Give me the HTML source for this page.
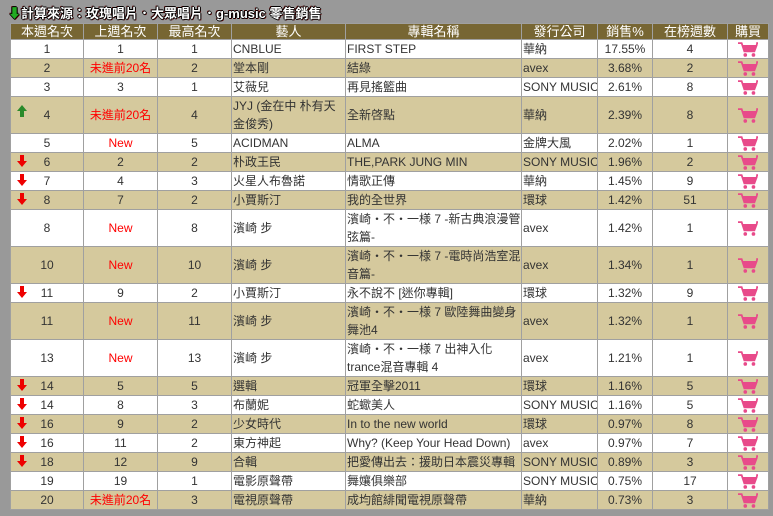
<!DOCTYPE html>
<html><head><meta charset="utf-8">
<style>
body{margin:0;background:#999;width:773px;height:516px;overflow:hidden;font-family:"Liberation Sans","Noto Sans CJK TC",sans-serif;}
.title{position:absolute;left:8px;top:3px;font-size:13px;font-weight:bold;color:#fff;text-shadow:1px 0 #000,-1px 0 #000,0 1px #000,0 -1px #000,1px 1px #600,-1px -1px #600;white-space:nowrap;}
.title .ar{color:#2a2;}
table{position:absolute;left:10px;top:23px;width:758px;border-collapse:collapse;table-layout:fixed;font-size:12px;color:#333;}
td{border:1px solid #a0a0a0;padding:0 1px;line-height:18px;overflow:hidden;white-space:nowrap;}
tr.h td{background:#776633;color:#fff;text-align:center;font-size:13px;height:15px;line-height:15px;}
tr.w td{background:#fff;}
tr.t td{background:#d5c99d;}
tr.s td{height:18px;}
tr.d td{height:36px;}
td.c{text-align:center;}
.r{color:#f00;}
td.a{position:relative;}
.dn,.up{position:absolute;left:6px;top:50%;margin-top:-7px;width:10px;height:12px;}
.cart{display:block;margin:0 auto;}
</style></head><body>
<div class="title"><span class="ar">⬇</span>計算來源：玫瑰唱片．大眾唱片．g-music 零售銷售</div>
<svg width="0" height="0" style="position:absolute"><defs>
<symbol id="d" viewBox="0 0 10 12"><path d="M3 0h4v6h3L5 12 0 6h3z" fill="#e00"/></symbol>
<symbol id="u" viewBox="0 0 10 12"><path d="M3 12h4V6h3L5 0 0 6h3z" fill="#2a8a2a"/></symbol>
<symbol id="k" viewBox="0 0 22 18"><path d="M0 2h4l3 9h11l3-8" stroke="#e84a8a" stroke-width="2" fill="none"/><path d="M4 4h16l-2 7H7z" fill="#e84a8a"/><circle cx="8" cy="15" r="2" fill="#e84a8a"/><circle cx="17" cy="15" r="2" fill="#e84a8a"/><path d="M20 2h2" stroke="#e84a8a" stroke-width="2"/></symbol>
</defs></svg>
<table>
<colgroup><col style="width:73px"><col style="width:74px"><col style="width:74px"><col style="width:114px"><col style="width:176px"><col style="width:76px"><col style="width:55px"><col style="width:75px"><col style="width:41px"></colgroup>
<tr class="h"><td>本週名次</td><td>上週名次</td><td>最高名次</td><td>藝人</td><td>專輯名稱</td><td>發行公司</td><td>銷售%</td><td>在榜週數</td><td>購買</td></tr>
<tr class="w s"><td class="c">1</td><td class="c">1</td><td class="c">1</td><td>CNBLUE</td><td>FIRST STEP</td><td>華納</td><td class="c">17.55%</td><td class="c">4</td><td><svg class="cart" width="20" height="17"><use href="#k"/></svg></td></tr>
<tr class="t s"><td class="c">2</td><td class="c r">未進前20名</td><td class="c">2</td><td>堂本剛</td><td>結綠</td><td>avex</td><td class="c">3.68%</td><td class="c">2</td><td><svg class="cart" width="20" height="17"><use href="#k"/></svg></td></tr>
<tr class="w s"><td class="c">3</td><td class="c">3</td><td class="c">1</td><td>艾薇兒</td><td>再見搖籃曲</td><td>SONY MUSIC</td><td class="c">2.61%</td><td class="c">8</td><td><svg class="cart" width="20" height="17"><use href="#k"/></svg></td></tr>
<tr class="t d"><td class="c a"><svg class="up" style="top:8px;margin:0"><use href="#u"/></svg>4</td><td class="c r">未進前20名</td><td class="c">4</td><td>JYJ (金在中 朴有天<br>金俊秀)</td><td>全新啓點</td><td>華納</td><td class="c">2.39%</td><td class="c">8</td><td><svg class="cart" width="20" height="17"><use href="#k"/></svg></td></tr>
<tr class="w s"><td class="c">5</td><td class="c r">New</td><td class="c">5</td><td>ACIDMAN</td><td>ALMA</td><td>金牌大風</td><td class="c">2.02%</td><td class="c">1</td><td><svg class="cart" width="20" height="17"><use href="#k"/></svg></td></tr>
<tr class="t s"><td class="c a"><svg class="dn"><use href="#d"/></svg>6</td><td class="c">2</td><td class="c">2</td><td>朴政王民</td><td>THE,PARK JUNG MIN</td><td>SONY MUSIC</td><td class="c">1.96%</td><td class="c">2</td><td><svg class="cart" width="20" height="17"><use href="#k"/></svg></td></tr>
<tr class="w s"><td class="c a"><svg class="dn"><use href="#d"/></svg>7</td><td class="c">4</td><td class="c">3</td><td>火星人布魯諾</td><td>情歌正傳</td><td>華納</td><td class="c">1.45%</td><td class="c">9</td><td><svg class="cart" width="20" height="17"><use href="#k"/></svg></td></tr>
<tr class="t s"><td class="c a"><svg class="dn"><use href="#d"/></svg>8</td><td class="c">7</td><td class="c">2</td><td>小賈斯汀</td><td>我的全世界</td><td>環球</td><td class="c">1.42%</td><td class="c">51</td><td><svg class="cart" width="20" height="17"><use href="#k"/></svg></td></tr>
<tr class="w d"><td class="c">8</td><td class="c r">New</td><td class="c">8</td><td>濱崎 步</td><td>濱崎・不・一様 7 -新古典浪漫管<br>弦篇-</td><td>avex</td><td class="c">1.42%</td><td class="c">1</td><td><svg class="cart" width="20" height="17"><use href="#k"/></svg></td></tr>
<tr class="t d"><td class="c">10</td><td class="c r">New</td><td class="c">10</td><td>濱崎 步</td><td>濱崎・不・一様 7 -電時尚浩室混<br>音篇-</td><td>avex</td><td class="c">1.34%</td><td class="c">1</td><td><svg class="cart" width="20" height="17"><use href="#k"/></svg></td></tr>
<tr class="w s"><td class="c a"><svg class="dn"><use href="#d"/></svg>11</td><td class="c">9</td><td class="c">2</td><td>小賈斯汀</td><td>永不說不 [迷你專輯]</td><td>環球</td><td class="c">1.32%</td><td class="c">9</td><td><svg class="cart" width="20" height="17"><use href="#k"/></svg></td></tr>
<tr class="t d"><td class="c">11</td><td class="c r">New</td><td class="c">11</td><td>濱崎 步</td><td>濱崎・不・一様 7 歐陸舞曲變身<br>舞池4</td><td>avex</td><td class="c">1.32%</td><td class="c">1</td><td><svg class="cart" width="20" height="17"><use href="#k"/></svg></td></tr>
<tr class="w d"><td class="c">13</td><td class="c r">New</td><td class="c">13</td><td>濱崎 步</td><td>濱崎・不・一様 7 出神入化<br>trance混音專輯 4</td><td>avex</td><td class="c">1.21%</td><td class="c">1</td><td><svg class="cart" width="20" height="17"><use href="#k"/></svg></td></tr>
<tr class="t s"><td class="c a"><svg class="dn"><use href="#d"/></svg>14</td><td class="c">5</td><td class="c">5</td><td>選輯</td><td>冠軍全擊2011</td><td>環球</td><td class="c">1.16%</td><td class="c">5</td><td><svg class="cart" width="20" height="17"><use href="#k"/></svg></td></tr>
<tr class="w s"><td class="c a"><svg class="dn"><use href="#d"/></svg>14</td><td class="c">8</td><td class="c">3</td><td>布蘭妮</td><td>蛇蠍美人</td><td>SONY MUSIC</td><td class="c">1.16%</td><td class="c">5</td><td><svg class="cart" width="20" height="17"><use href="#k"/></svg></td></tr>
<tr class="t s"><td class="c a"><svg class="dn"><use href="#d"/></svg>16</td><td class="c">9</td><td class="c">2</td><td>少女時代</td><td>In to the new world</td><td>環球</td><td class="c">0.97%</td><td class="c">8</td><td><svg class="cart" width="20" height="17"><use href="#k"/></svg></td></tr>
<tr class="w s"><td class="c a"><svg class="dn"><use href="#d"/></svg>16</td><td class="c">11</td><td class="c">2</td><td>東方神起</td><td>Why? (Keep Your Head Down)</td><td>avex</td><td class="c">0.97%</td><td class="c">7</td><td><svg class="cart" width="20" height="17"><use href="#k"/></svg></td></tr>
<tr class="t s"><td class="c a"><svg class="dn"><use href="#d"/></svg>18</td><td class="c">12</td><td class="c">9</td><td>合輯</td><td>把愛傳出去：援助日本震災專輯</td><td>SONY MUSIC</td><td class="c">0.89%</td><td class="c">3</td><td><svg class="cart" width="20" height="17"><use href="#k"/></svg></td></tr>
<tr class="w s"><td class="c">19</td><td class="c">19</td><td class="c">1</td><td>電影原聲帶</td><td>舞孃俱樂部</td><td>SONY MUSIC</td><td class="c">0.75%</td><td class="c">17</td><td><svg class="cart" width="20" height="17"><use href="#k"/></svg></td></tr>
<tr class="t s"><td class="c">20</td><td class="c r">未進前20名</td><td class="c">3</td><td>電視原聲帶</td><td>成均館緋聞電視原聲帶</td><td>華納</td><td class="c">0.73%</td><td class="c">3</td><td><svg class="cart" width="20" height="17"><use href="#k"/></svg></td></tr>
</table>
</body></html>
